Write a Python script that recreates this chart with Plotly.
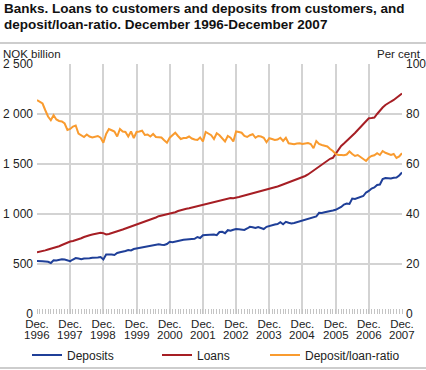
import plotly.graph_objects as go

# Month index 0 = Dec 1996 ... 132 = Dec 2007
year_labels = ["1996", "1997", "1998", "1999", "2000", "2001", "2002",
               "2003", "2004", "2005", "2006", "2007"]
left_ticks = [0, 500, 1000, 1500, 2000, 2500]
left_ticktext = ["0", "500", "1 000", "1 500", "2 000", "2 500"]
right_ticks = [0, 20, 40, 60, 80, 100]

deposits = [
    530, 532, 528, 525, 522, 510, 538, 535, 540, 548, 545, 535,
    528, 545, 560, 555, 548, 555, 560, 558, 562, 560, 565, 570,
    545, 595, 598, 595, 590, 610, 618, 622, 630, 640, 635, 650,
    655, 660, 668, 672, 680, 685, 690, 695, 697, 692, 690, 700,
    722, 718, 725, 732, 740, 742, 745, 750, 750, 752, 770, 760,
    788, 790, 792, 797, 795, 788, 820, 822, 808, 838, 832, 842,
    850, 848, 845, 840, 855, 872, 868, 860, 870, 862, 850, 872,
    882, 888, 895, 900, 918, 898, 922, 912, 905, 910, 918, 925,
    930, 938, 945, 960, 965, 975, 1012, 1010, 1018, 1022, 1028, 1035,
    1042, 1055, 1070, 1095, 1105, 1100, 1155, 1150, 1160, 1175, 1180, 1215,
    1230, 1255, 1265, 1290, 1295, 1350, 1360, 1358, 1355, 1362, 1365, 1385,
    1415,
]

loans = [
    618, 622, 628, 636, 645, 652, 662, 670, 678, 690, 702, 715,
    725, 730, 738, 745, 758, 770, 782, 788, 795, 800, 805, 812,
    808, 795, 800, 808, 815, 825, 835, 845, 855, 865, 872, 880,
    890, 900, 910, 920, 932, 945, 955, 965, 978, 985, 990, 1000,
    1005, 1008, 1018, 1030, 1040, 1045, 1052, 1058, 1065, 1072, 1078, 1085,
    1092, 1100, 1105, 1112, 1120, 1128, 1135, 1140, 1148, 1155, 1160, 1158,
    1162, 1170, 1178, 1185, 1193, 1200, 1210, 1215, 1222, 1228, 1235, 1242,
    1250, 1258, 1265, 1275, 1285, 1295, 1305, 1315, 1325, 1335, 1345, 1358,
    1370, 1380, 1395, 1415, 1435, 1455, 1475, 1495, 1520, 1540, 1552, 1562,
    1600, 1650, 1680, 1705, 1730, 1755, 1780, 1810, 1840, 1870, 1900, 1930,
    1957, 1960, 1965, 2000, 2035, 2065, 2090, 2110, 2125, 2140, 2160, 2180,
    2205,
]

ratio = [
    85.6, 84.8, 84.2, 81.5, 79.0, 77.5, 79.5, 77.8, 77.2, 77.0, 76.2, 73.6,
    74.0, 75.0, 75.4, 72.2, 71.5, 70.8, 71.8, 71.0, 70.6, 70.8, 71.2, 70.5,
    68.5, 72.0, 74.0, 73.5, 73.0, 71.0, 74.0, 73.0, 72.8, 71.0, 73.0, 70.4,
    72.8, 73.0, 73.3, 71.6, 71.8, 71.0, 72.0, 70.8, 70.8, 70.6, 69.5, 68.5,
    70.5, 71.6, 72.5, 71.2, 70.0, 70.4, 70.4, 71.0, 70.2, 69.8, 69.6, 70.6,
    69.0, 72.8, 72.3, 71.5, 70.0, 72.3, 71.5, 70.4, 69.0, 71.2, 70.5, 69.0,
    73.0, 72.8, 72.5, 71.2, 70.8, 71.5, 71.9, 70.5, 71.2, 71.0, 70.5, 68.7,
    70.3, 70.0, 69.6, 69.8, 70.5, 69.2, 70.5, 68.3, 68.0, 67.9, 68.2, 68.3,
    68.0, 68.3, 68.4, 68.0, 66.3, 69.2, 68.0, 67.6, 67.3, 67.0, 66.0, 65.2,
    64.0, 63.6, 63.6, 63.5, 63.8, 65.0, 64.0, 63.2, 63.6, 62.8, 62.3, 61.2,
    62.5, 63.2, 63.5, 64.3, 63.6, 65.2, 64.5, 64.0, 63.6, 64.0, 62.4, 63.0,
    64.3,
]

months = list(range(len(deposits)))
year_ticks = [12 * k for k in range(len(year_labels))]
x_ticktext = ["Dec."] * len(year_labels)

FONT = "Liberation Sans, Arial, sans-serif"
BLUE = "#1f3f98"
RED = "#a61e24"
ORANGE = "#f99b2f"
GRID = "#d3d3d3"
TXT = "#222222"

W, H = 426, 370
L, R, T, B = 37, 24, 64, 56
PW, PH = W - L - R, H - T - B


def cx(px):
    return px / W


def cy(py):
    return 1 - py / H


def paper_x(px):
    return (px - L) / PW


def paper_y(py):
    return (H - B - py) / PH


fig = go.Figure()
fig.add_trace(go.Scatter(x=months, y=deposits, name="Deposits", mode="lines",
                         line=dict(color=BLUE, width=2), legend="legend"))
fig.add_trace(go.Scatter(x=months, y=loans, name="Loans", mode="lines",
                         line=dict(color=RED, width=2), legend="legend2"))
fig.add_trace(go.Scatter(x=months, y=ratio, name="Deposit/loan-ratio", mode="lines",
                         line=dict(color=ORANGE, width=2), yaxis="y2", legend="legend3"))

legend_common = dict(orientation="h", yanchor="middle", xanchor="left",
                     xref="container", yref="container",
                     bgcolor="rgba(0,0,0,0)", font=dict(family=FONT, size=12, color=TXT),
                     itemclick=False, itemdoubleclick=False)

txt_common = dict(xref="paper", yref="paper", showarrow=False)

annotations = [
    dict(text="<b>Banks. Loans to customers and deposits from customers, and</b>",
         x=paper_x(2), y=paper_y(8), xanchor="left", yanchor="middle",
         font=dict(family=FONT, size=13.5, color="#111"), **txt_common),
    dict(text="<b>deposit/loan-ratio. December 1996-December 2007</b>",
         x=paper_x(2), y=paper_y(24), xanchor="left", yanchor="middle",
         font=dict(family=FONT, size=13.5, color="#111"), **txt_common),
    dict(text="NOK billion", x=paper_x(1), y=paper_y(54.5), xanchor="left",
         yanchor="middle", font=dict(family=FONT, size=11.5, color=TXT), **txt_common),
    dict(text="Per cent", x=paper_x(423), y=paper_y(54.5), xanchor="right",
         yanchor="middle", font=dict(family=FONT, size=11.5, color=TXT), **txt_common),
]
# second line of the x tick labels (years), placed on the x scale
for tv, yl in zip(year_ticks, year_labels):
    annotations.append(dict(text=yl, x=tv, xref="x", y=paper_y(335), yref="paper",
                            xanchor="center", yanchor="middle", showarrow=False,
                            font=dict(family=FONT, size=11.5, color=TXT)))

fig.update_layout(
    template="none",
    width=W, height=H,
    margin=dict(l=L, r=R, t=T, b=B, pad=0, autoexpand=False),
    paper_bgcolor="white", plot_bgcolor="white",
    font=dict(family=FONT, size=12, color=TXT),
    showlegend=True,
    legend=dict(x=cx(27), y=cy(355), **legend_common),
    legend2=dict(x=cx(157), y=cy(355), **legend_common),
    legend3=dict(x=cx(265), y=cy(355), **legend_common),
    xaxis=dict(
        range=[0, 132], tickmode="array", tickvals=year_ticks, ticktext=x_ticktext,
        showgrid=True, gridcolor=GRID, gridwidth=1.5, zeroline=False,
        showline=False, ticks="", tickfont=dict(size=11.5, color=TXT),
        ticklabelstandoff=1, automargin=False,
        minor=dict(tickmode="linear", tick0=0, dtick=1, ticks="inside", ticklen=5,
                   tickcolor="#c4c4c4", tickwidth=1, showgrid=False),
        fixedrange=True,
    ),
    yaxis=dict(
        range=[0, 2500], tickmode="array", tickvals=left_ticks, ticktext=left_ticktext,
        showgrid=True, gridcolor=GRID, gridwidth=1.5, zeroline=False, showline=False,
        ticks="", tickfont=dict(size=12, color=TXT), automargin=False, fixedrange=True,
        ticklabelstandoff=3,
    ),
    yaxis2=dict(
        range=[0, 100], tickmode="array", tickvals=right_ticks,
        overlaying="y", side="right", showgrid=False, zeroline=False, showline=False,
        ticks="", tickfont=dict(size=12, color=TXT), automargin=False, fixedrange=True,
        ticklabelstandoff=3,
    ),
    shapes=[
        dict(type="line", xref="paper", yref="paper",
             x0=paper_x(0), x1=paper_x(W), y0=paper_y(43), y1=paper_y(43),
             line=dict(color="#bdbdbd", width=1.5)),
        dict(type="line", xref="paper", yref="paper",
             x0=paper_x(0), x1=paper_x(W), y0=paper_y(368), y1=paper_y(368),
             line=dict(color="#bdbdbd", width=1.5)),
    ],
    annotations=annotations,
)

fig.write_html("out.html", config={"displayModeBar": False},
               post_script="document.body.style.margin='0px';document.body.style.padding='0px';")
